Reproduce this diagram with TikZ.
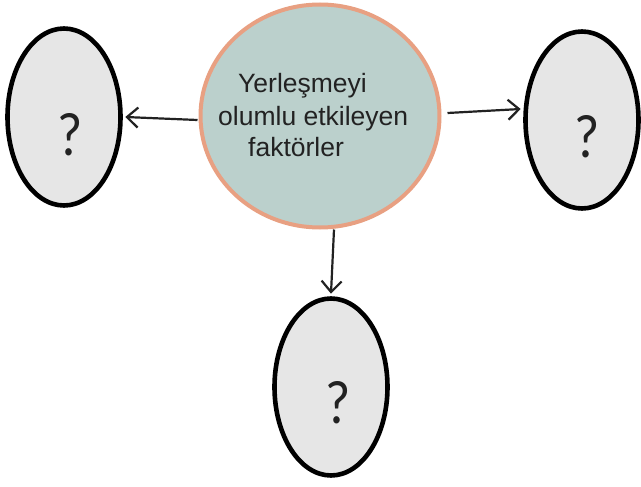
\documentclass[tikz,border=0pt]{standalone}
\usepackage{fontspec}
\setmainfont{Liberation Sans}
\newfontfamily\qfont{Lato}
\usetikzlibrary{shapes.geometric,arrows.meta,calc}
\definecolor{cfill}{HTML}{BBD0CC}
\definecolor{cborder}{HTML}{E8A082}
\definecolor{efill}{HTML}{E6E6E6}
\definecolor{ink}{HTML}{222222}
\tikzset{
  qell/.style={ellipse, draw=black, line width=4.6pt, fill=efill, minimum width=113pt, minimum height=177pt, inner sep=0pt},
  hub/.style={ellipse, draw=cborder, line width=4pt, fill=cfill, minimum width=239pt, minimum height=223pt, inner sep=0pt},
  arr/.style={draw=ink, line width=2.2pt, -{Straight Barb[length=11pt,width=20pt,line width=2.2pt]}},
  htext/.style={anchor=base west, inner sep=0pt, text=ink, font=\fontsize{26.5}{32}\selectfont},
  qmark/.style={inner sep=0pt, text=ink, font=\qfont\fontsize{58}{64}\selectfont}
}
\begin{document}
\begin{tikzpicture}[x=1pt,y=-1pt]
\useasboundingbox (0,0) rectangle (641,487);
\fill[white] (0,0) rectangle (641,487);
\node[hub] (c) at (320,116) {};
\node[qell] (l) at (64,117) {};
\node[qell] (r) at (582,120) {};
\node[qell] (b) at (331,387) {};
\node[htext] (t1) at (238,93) {Yerleşmeyi};
\node[htext] (t2) at (218,125) {olumlu etkileyen};
\node[htext] (t3) at (248,157) {faktörler};
\node[qmark, xscale=0.9] (q1) at (70,135) {?};
\node[qmark, xscale=0.9] (q2) at (587,137) {?};
\node[qmark, xscale=0.9] (q3) at (338,403) {?};
\draw[arr] ($(c.west)+(-1,4)$) -- ($(l.east)+(2.5,0)$);
\draw[arr] ($(c.east)+(6,-3)$) -- ($(r.west)+(-2.5,-11)$);
\draw[arr] ($(c.south)+(14,0)$) -- ($(b.north)+(0,-2.5)$);
\end{tikzpicture}
\end{document}
